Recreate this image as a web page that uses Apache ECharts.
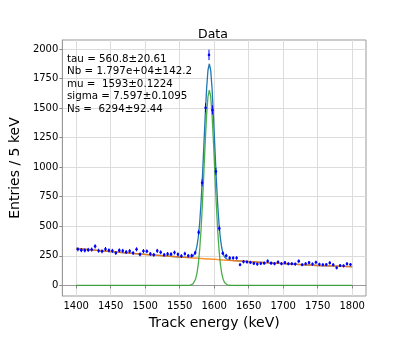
<!DOCTYPE html>
<html lang="en">
<head>
    <meta charset="UTF-8">
    <title>Data</title>
    <script src="https://cdn.jsdelivr.net/npm/echarts@6/dist/echarts.min.js"></script>
    <style type="text/css">
        html, body { margin: 0; padding: 0; background: #ffffff; }
        #chart { width: 407px; height: 339px; }
    </style>
</head>
<body>
<div id="chart"></div>
<script type="text/javascript">
    // histogram: 5 keV bins from 1400 keV
    var binLow = 1400;
    var binWidth = 5;
    var counts = [
        305, 298, 296, 300, 303, 330, 293, 288, 307, 296,
        292, 274, 296, 292, 282, 290, 274, 305, 262, 290,
        288, 266, 258, 292, 280, 258, 266, 264, 278, 262,
        248, 268, 250, 252, 275, 448, 868, 1502, 1950, 1484,
        964, 482, 272, 251, 232, 232, 232, 175, 200, 198,
        194, 186, 180, 185, 188, 205, 188, 183, 197, 183,
        192, 183, 183, 180, 205, 175, 183, 192, 180, 195,
        178, 175, 176, 190, 175, 148, 168, 165, 182, 176
    ];

    // fit curves
    var curveX = [1400, 1425, 1450, 1475, 1500, 1525, 1550, 1560, 1565, 1567, 1569, 1571, 1573, 1575, 1577, 1579,
        1581, 1583, 1585, 1587, 1589, 1591, 1593, 1595, 1597, 1599, 1601, 1603, 1605, 1607, 1609, 1611,
        1613, 1615, 1617, 1619, 1621, 1625, 1630, 1650, 1675, 1700, 1725, 1750, 1775, 1800];
    var totalFit = [312, 299, 286, 274, 262, 251, 240, 236, 236, 238, 243, 257, 283, 330, 409, 530,
        703, 921, 1175, 1434, 1662, 1820, 1875, 1818, 1659, 1429, 1169, 913, 693, 519, 397, 316,
        267, 239, 224, 218, 214, 211, 209, 201, 192, 184, 176, 168, 163, 158];
    var bkgFit = [312, 299, 286, 274, 262, 251, 240, 236, 234, 233, 232, 232, 231, 230, 229, 228,
        228, 227, 226, 225, 224, 224, 223, 222, 221, 220, 220, 219, 218, 217, 217, 216,
        215, 214, 213, 213, 212, 211, 209, 201, 192, 184, 176, 168, 163, 158];
    var sigFit = [0, 0, 0, 0, 0, 0, 0, 0, 2, 5, 11, 25, 52, 100, 180, 302,
        475, 694, 949, 1209, 1438, 1596, 1652, 1596, 1438, 1209, 949, 694, 475, 302, 180, 100,
        52, 25, 11, 5, 2, 0, 0, 0, 0, 0, 0, 0, 0, 0];

    var xTicks = [1400, 1450, 1500, 1550, 1600, 1650, 1700, 1750, 1800];
    var yTicks = [0, 250, 500, 750, 1000, 1250, 1500, 1750, 2000];

    var fitText = [
        'tau = 560.8±20.61',
        'Nb = 1.797e+04±142.2',
        'mu =  1593±0.1224',
        'sigma = 7.597±0.1095',
        'Ns =  6294±92.44'
    ];

    var points = counts.map(function (n, i) {
        return [binLow + binWidth * (i + 0.5), n, Math.sqrt(n)];
    });
    function pairs(xs, ys) {
        return xs.map(function (x, i) { return [x, ys[i]]; });
    }
    function plain(v) { return String(v); }

    var font = 'DejaVu Sans';
    var myChart = echarts.init(document.getElementById('chart'), null, {renderer: 'canvas'});
    var option = {
        animation: false,
        backgroundColor: '#ffffff',
        textStyle: {fontFamily: font},
        title: {
            text: 'Data',
            left: 208, top: 23,
            textAlign: 'center',
            textStyle: {fontFamily: font, fontSize: 12.5, fontWeight: 'normal', color: '#000'}
        },
        grid: {
            left: 50, right: 41, top: 40, bottom: 43,
            show: true, borderColor: '#999', borderWidth: 1
        },
        xAxis: {
            type: 'value', min: 1380, max: 1820,
            name: 'Track energy (keV)', nameLocation: 'middle', nameGap: 14,
            nameTextStyle: {fontFamily: font, fontSize: 14, color: '#000'},
            axisLine: {show: true, lineStyle: {color: '#999'}},
            axisTick: {show: true, length: 3, customValues: xTicks, lineStyle: {color: '#888'}},
            axisLabel: {customValues: xTicks, formatter: plain, margin: 5, fontFamily: font, fontSize: 10, color: '#000'},
            splitLine: {show: true, lineStyle: {color: '#dcdcdc', width: 1}}
        },
        yAxis: {
            type: 'value', min: -90, max: 2076,
            name: 'Entries / 5 keV', nameLocation: 'middle', nameGap: 30,
            nameTextStyle: {fontFamily: font, fontSize: 14, color: '#000'},
            axisLine: {show: true, lineStyle: {color: '#999'}},
            axisTick: {show: true, length: 3, customValues: yTicks, lineStyle: {color: '#888'}},
            axisLabel: {customValues: yTicks, formatter: plain, margin: 4, fontFamily: font, fontSize: 10, color: '#000'},
            splitLine: {show: true, lineStyle: {color: '#dcdcdc', width: 1}}
        },
        graphic: [{
            type: 'text', left: 67, top: 53, silent: true, z: 100,
            style: {text: fitText.join('\n'), font: '10.3px "DejaVu Sans"', lineHeight: 12.5, fill: '#000'}
        }],
        series: [
            {
                name: 'total', type: 'line', data: pairs(curveX, totalFit), showSymbol: false,
                lineStyle: {color: '#1f77b4', width: 1.3}, z: 2
            },
            {
                name: 'background', type: 'line', data: pairs(curveX, bkgFit), showSymbol: false,
                lineStyle: {color: '#ff7f0e', width: 1.5, opacity: 0.85}, z: 3
            },
            {
                name: 'signal', type: 'line', data: pairs(curveX, sigFit), showSymbol: false,
                lineStyle: {color: '#2ca02c', width: 1.3, opacity: 0.85}, z: 4
            },
            {
                name: 'data', type: 'custom', z: 5,
                data: points,
                renderItem: function (params, api) {
                    var x = api.value(0), y = api.value(1), e = api.value(2);
                    var lo = api.coord([x, y - e]);
                    var hi = api.coord([x, y + e]);
                    var c = api.coord([x, y]);
                    return {
                        type: 'group',
                        children: [
                            {type: 'line', shape: {x1: lo[0], y1: lo[1], x2: hi[0], y2: hi[1]},
                                style: {stroke: '#0000ff', lineWidth: 1}},
                            {type: 'circle', shape: {cx: c[0], cy: c[1], r: 1.3},
                                style: {fill: '#0000ff'}}
                        ]
                    };
                }
            }
        ]
    };
    myChart.setOption(option);
</script>
</body>
</html>
